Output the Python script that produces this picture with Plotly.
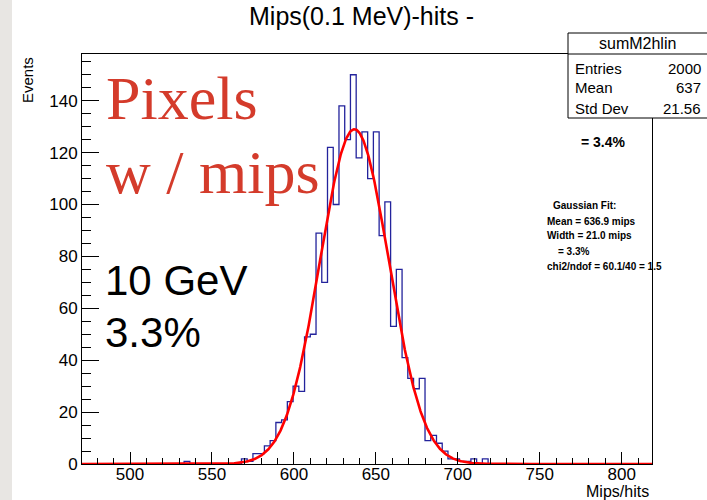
import numpy as np
import plotly.graph_objects as go

# ---------------- data ----------------
hist_start = 470.0          # lower edge of first bin
bin_width = 3.5             # 100 bins, 470 .. 820
counts = ([0] * 18 + [1] + [0] * 9 +
          [2, 1, 4, 4, 7, 9, 16, 17, 24, 30, 28,
           49, 50, 89, 70, 122, 100, 138, 125, 150, 118, 128, 110, 128, 88, 101,
           53, 75, 41, 33, 29, 33, 9, 11, 8, 5, 2, 2, 1, 1, 2, 0, 2] +
          [0] * 29)

fit_mean = 636.9
fit_sigma = 21.0
fit_amp = 129.0

x_ticks = [500, 550, 600, 650, 700, 750, 800]
y_ticks = [0, 20, 40, 60, 80, 100, 120, 140]

stats_name = "sumM2hlin"
stats_labels = ["Entries", "Mean", "Std Dev"]
stats_values = ["2000", "637", "21.56"]

fit_lines = ["Gaussian Fit:", "Mean = 636.9 mips", "Width = 21.0 mips",
             "= 3.3%", "chi2/ndof = 60.1/40 = 1.5"]

# ---------------- figure ----------------
W, H = 707, 500
L, R, T, B = 82, 652, 54, 464   # plot frame in pixels


def px(xp):
    return (xp - L) / (R - L)


def py(yp):
    return (B - yp) / (B - T)


edges = hist_start + bin_width * np.arange(len(counts) + 1)
step_y = list(counts) + [counts[-1]]

xfit = np.linspace(470.7, 818.5, 1200)
yfit = fit_amp * np.exp(-0.5 * ((xfit - fit_mean) / fit_sigma) ** 2)

fig = go.Figure()
fig.add_trace(go.Scatter(x=edges, y=step_y, mode="lines", line_shape="hv",
                         line=dict(color="#23239c", width=1.3),
                         hoverinfo="skip"))
fig.add_trace(go.Scatter(x=xfit, y=yfit, mode="lines",
                         line=dict(color="#ff0000", width=2.6),
                         hoverinfo="skip"))

font = "Liberation Sans, Arial, Helvetica, sans-serif"
serif = "Liberation Serif, Times New Roman, serif"

fig.update_layout(
    width=W, height=H,
    margin=dict(l=L, r=W - R, t=T, b=H - B, pad=0),
    paper_bgcolor="white", plot_bgcolor="white",
    showlegend=False,
    font=dict(family=font, color="black"),
)
fig.update_xaxes(range=[470.7, 818.5], showline=True, linecolor="black",
                 linewidth=1, mirror=True, showgrid=False, zeroline=False,
                 ticks="inside", ticklen=12, tickwidth=1, tickcolor="black",
                 tickvals=x_ticks, ticktext=[str(v) for v in x_ticks],
                 ticklabelstandoff=-5,
                 tickfont=dict(size=17, family=font, color="black"),
                 minor=dict(ticks="inside", ticklen=6, tickwidth=1,
                            tickcolor="black", dtick=10, tick0=500,
                            showgrid=False))
fig.update_yaxes(range=[0, 158], showline=True, linecolor="black",
                 linewidth=1, mirror=True, showgrid=False, zeroline=False,
                 ticks="inside", ticklen=17, tickwidth=1, tickcolor="black",
                 tickvals=y_ticks, ticktext=[str(v) for v in y_ticks],
                 tickfont=dict(size=17, family=font, color="black"),
                 minor=dict(ticks="inside", ticklen=9, tickwidth=1,
                            tickcolor="black", dtick=5, tick0=0,
                            showgrid=False))

shapes = [
    dict(type="rect", xref="paper", yref="paper", x0=px(0), x1=px(12),
         y0=py(500), y1=py(0), fillcolor="#e8e6e3", line=dict(width=0),
         layer="above"),
    dict(type="rect", xref="paper", yref="paper", x0=px(568), x1=px(712),
         y0=py(118), y1=py(33), fillcolor="white",
         line=dict(color="black", width=1), layer="above"),
    dict(type="line", xref="paper", yref="paper", x0=px(568), x1=px(712),
         y0=py(54), y1=py(54), line=dict(color="black", width=1),
         layer="above"),
]
fig.update_layout(shapes=shapes)

ann = []


def add(text, x, y, size, xa="left", ya="middle", color="black",
        fam=font, angle=0):
    ann.append(dict(text=text, x=px(x), y=py(y), xref="paper", yref="paper",
                    xanchor=xa, yanchor=ya, showarrow=False, textangle=angle,
                    font=dict(size=size, family=fam, color=color)))


add("Mips(0.1 MeV)-hits -", 361, 0, 25, xa="center", ya="top")
add("Events", 28, 80, 15, xa="center", angle=-90)
add("Mips/hits", 651, 491, 16, xa="right")

add(stats_name, 637, 44, 16, xa="center")
for i, (lab, val) in enumerate(zip(stats_labels, stats_values)):
    add(lab, 573, 68 + 20 * i, 15)
    add(val, 703, 68 + 20 * i, 15, xa="right")

add("<b>= 3.4%</b>", 603, 142, 14, xa="center")

fit_x = [551, 545, 545, 556, 545]
fit_y = [205, 221, 236, 251, 266]
for t, xx, yy in zip(fit_lines, fit_x, fit_y):
    add("<b>" + t + "</b>", xx, yy, 10)

add("Pixels", 104, 98, 62, color="#d43b2b", fam=serif)
add("w / mips", 104, 172, 62, color="#d43b2b", fam=serif)
add("10 GeV", 103, 280, 42)
add("3.3%", 103, 332, 42)

fig.update_layout(annotations=ann)
fig.write_html("out.html", config={"displayModeBar": False},
               post_script="document.body.style.margin='0';"
                           "document.body.style.overflow='hidden';")
